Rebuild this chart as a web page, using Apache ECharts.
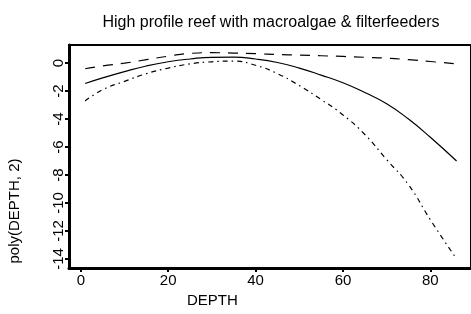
<!DOCTYPE html>
<html>
<head>
<meta charset="utf-8">
<script src="https://cdn.jsdelivr.net/npm/echarts@6/dist/echarts.min.js"></script>
<style>
  html, body { margin: 0; padding: 0; background: #fff; }
  #main { width: 471px; height: 314px; }
</style>
</head>
<body>
<div id="main"></div>
<script>
// depth values where the curves were read
var depth = [1, 5, 10, 15, 20, 25, 30, 35, 40, 45, 50, 55, 60, 65, 70, 75, 80, 86];
// fitted curve and the two bands
var fit   = [-1.45, -1.05, -0.6, -0.2, 0.1, 0.3, 0.42, 0.43, 0.3, 0.05, -0.35, -0.85, -1.4, -2.1, -2.9, -4.0, -5.3, -7.0];
var upper = [-0.4, -0.2, 0.0, 0.25, 0.5, 0.7, 0.75, 0.72, 0.68, 0.62, 0.58, 0.53, 0.48, 0.42, 0.36, 0.25, 0.12, -0.05];
var lower = [-2.7, -1.9, -1.3, -0.75, -0.35, -0.05, 0.1, 0.15, -0.15, -0.75, -1.6, -2.6, -3.7, -5.1, -6.9, -8.7, -11.2, -14.0];
var xTicks = [0, 20, 40, 60, 80];
var yTicks = [0, -2, -4, -6, -8, -10, -12, -14];

function pairs(ys) {
  return depth.map(function (d, i) { return [d, ys[i]]; });
}

var font = 'Liberation Sans';
var chart = echarts.init(document.getElementById('main'));

var option = {
  animation: false,
  backgroundColor: '#fff',
  title: {
    text: 'High profile reef with macroalgae & filterfeeders',
    left: 266,
    top: 10,
    textAlign: 'center',
    textStyle: { fontFamily: font, fontSize: 16, fontWeight: 'normal', color: '#000' }
  },
  grid: {
    left: 69, top: 45, right: -2, bottom: 46,
    show: true, borderColor: '#000', borderWidth: 2, backgroundColor: 'transparent'
  },
  xAxis: {
    type: 'value', min: -2.7, max: 89.3,
    splitLine: { show: false },
    axisLine: { onZero: false, lineStyle: { color: '#000', width: 3 } },
    axisTick: { length: 4, lineStyle: { color: '#000', width: 2 }, customValues: xTicks },
    axisLabel: { customValues: xTicks, margin: 5, fontFamily: font, fontSize: 15, color: '#000' }
  },
  yAxis: {
    type: 'value', min: -14.65, max: 1.3,
    splitLine: { show: false },
    axisLine: { onZero: false, lineStyle: { color: '#000', width: 3 } },
    axisTick: { length: 4, lineStyle: { color: '#000', width: 2 }, customValues: yTicks },
    axisLabel: { customValues: yTicks, rotate: 90, margin: 3, fontFamily: font, fontSize: 15, color: '#000' }
  },
  graphic: [
    {
      type: 'text', left: 187, top: 293,
      style: { text: 'DEPTH', fontFamily: font, fontSize: 15, fill: '#000' }
    },
    {
      type: 'text', x: 7, y: 211, rotation: Math.PI / 2,
      style: { text: 'poly(DEPTH, 2)', fontFamily: font, fontSize: 15, fill: '#000', align: 'center', verticalAlign: 'top' }
    }
  ],
  series: [
    {
      type: 'line', data: pairs(fit), smooth: 0.5, symbol: 'none',
      lineStyle: { color: '#000', width: 1.2, type: 'solid' }
    },
    {
      type: 'line', data: pairs(upper), smooth: 0.5, symbol: 'none',
      lineStyle: { color: '#000', width: 1.2, type: [10, 8] }
    },
    {
      type: 'line', data: pairs(lower), smooth: 0.5, symbol: 'none',
      lineStyle: { color: '#000', width: 1.2, type: [5, 4, 1.5, 4] }
    }
  ]
};

chart.setOption(option);
</script>
</body>
</html>
